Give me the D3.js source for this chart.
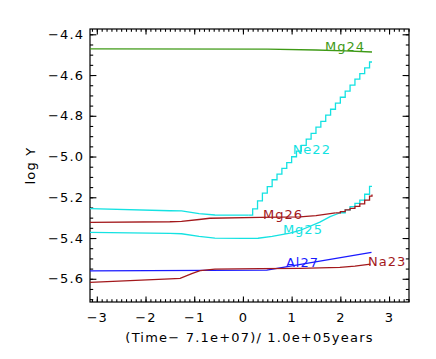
<!DOCTYPE html>
<html>
<head>
<meta charset="utf-8">
<script src="https://cdn.jsdelivr.net/npm/d3@7"></script>
<style>
  body { margin: 0; background: #fff; }
  text { font-family: "DejaVu Sans", sans-serif; }
</style>
</head>
<body>
<div id="chart"></div>
<script>
// tick values
var xTicks = [-3, -2, -1, 0, 1, 2, 3];
var yTicks = [-5.6, -5.4, -5.2, -5.0, -4.8, -4.6, -4.4];

// series, [time, log Y]
var mg24 = [[-3.14, -4.472], [0.5, -4.473], [1.5, -4.477], [2.1, -4.481], [2.65, -4.487]];

var ne22Smooth = [[-3.14, -5.256], [-1.5, -5.266], [-1.26, -5.267], [-0.9, -5.280], [-0.575, -5.287], [0.12, -5.288]];
var ne22Steps = [[0.12, -5.288], [0.2, -5.257], [0.3, -5.218], [0.4, -5.180], [0.5, -5.148], [0.6, -5.114],
    [0.7, -5.086], [0.8, -5.058], [0.9, -5.030], [1.0, -5.001], [1.1, -4.973], [1.2, -4.945],
    [1.3, -4.915], [1.4, -4.886], [1.5, -4.856], [1.6, -4.827], [1.7, -4.797], [1.8, -4.768],
    [1.9, -4.738], [2.0, -4.709], [2.1, -4.679], [2.2, -4.649], [2.3, -4.620], [2.4, -4.593],
    [2.5, -4.565], [2.6, -4.536], [2.65, -4.536]];

var mg26Smooth = [[-3.14, -5.323], [-1.5, -5.320], [-1.26, -5.318], [-0.9, -5.309], [-0.68, -5.303],
    [0.35, -5.299], [1.17, -5.296], [1.5, -5.290], [1.9, -5.277]];
var mg26Steps = [[1.9, -5.277], [2.0, -5.270], [2.1, -5.262], [2.2, -5.254], [2.3, -5.245],
    [2.4, -5.232], [2.5, -5.214], [2.6, -5.194], [2.65, -5.186]];

var mg25Smooth = [[-3.14, -5.372], [-1.5, -5.377], [-1.26, -5.379], [-0.9, -5.392], [-0.575, -5.400],
    [0, -5.402], [0.31, -5.401], [0.6, -5.392], [0.965, -5.376], [1.17, -5.363], [1.58, -5.322],
    [1.79, -5.295], [2.0, -5.276]];
var mg25Steps = [[2.0, -5.276], [2.1, -5.262], [2.2, -5.246], [2.3, -5.230], [2.4, -5.214],
    [2.5, -5.185], [2.6, -5.146], [2.65, -5.146]];

var al27 = [[-3.14, -5.561], [0.49, -5.558], [2.64, -5.470]];

var na23 = [[-3.14, -5.618], [-1.5, -5.600], [-1.29, -5.598], [-1.05, -5.575], [-0.88, -5.560],
    [-0.575, -5.553], [0.35, -5.550], [1.17, -5.549], [1.99, -5.544], [2.3, -5.538], [2.62, -5.528]];

// label anchors in data units
var labelNames = ["Mg24", "Ne22", "Mg26", "Mg25", "Al27", "Na23"];
var labelAt = [[1.684, -4.480], [1.021, -4.988], [0.411, -5.3045], [0.821, -5.381], [0.883, -5.541], [2.567, -5.538]];

var green = "#3f9a16", cyan = "#14e2e2", red = "#a3191c", blue = "#1a1aff";
var labelColors = [green, cyan, red, cyan, blue, red];

var svgWidth = 436;
var svgHeight = 359;
var margin = { top: 29, right: 27, bottom: 57, left: 90 };
var width = svgWidth - margin.left - margin.right;
var height = svgHeight - margin.top - margin.bottom;

var svg = d3.select("#chart")
    .append("svg")
    .attr("width", svgWidth)
    .attr("height", svgHeight);

var chartGroup = svg.append("g")
    .attr("transform", `translate(${margin.left}, ${margin.top})`);

var xScale = d3.scaleLinear().domain([-3.14, 3.41]).range([0, width]);
var yScale = d3.scaleLinear().domain([-5.714, -4.374]).range([height, 0]);

var xMinor = d3.range(-31, 35).map(d => d / 10);
var yMinor = d3.range(-114, -87).map(d => d / 20);

function drawAxis(axis, tx, ty) {
    var g = chartGroup.append("g")
        .attr("transform", `translate(${tx}, ${ty})`)
        .call(axis);
    g.select(".domain").remove();
    g.selectAll("line").attr("stroke", "#000").attr("stroke-width", 1.1);
    g.selectAll("text")
        .style("font-size", "13px")
        .style("letter-spacing", "1.1px")
        .attr("fill", "#000");
    return g;
}

// major and minor ticks on all four sides, pointing in
drawAxis(d3.axisBottom(xScale).tickValues(xTicks).tickFormat(d3.format("d")).tickSize(-5.5).tickPadding(11), 0, height);
drawAxis(d3.axisBottom(xScale).tickValues(xMinor).tickFormat("").tickSize(-2.8), 0, height);
drawAxis(d3.axisTop(xScale).tickValues(xTicks).tickFormat("").tickSize(-5.5), 0, 0);
drawAxis(d3.axisTop(xScale).tickValues(xMinor).tickFormat("").tickSize(-2.8), 0, 0);
drawAxis(d3.axisLeft(yScale).tickValues(yTicks).tickFormat(d3.format(".1f")).tickSize(-6.4).tickPadding(6), 0, 0);
drawAxis(d3.axisLeft(yScale).tickValues(yMinor).tickFormat("").tickSize(-3.2), 0, 0);
drawAxis(d3.axisRight(yScale).tickValues(yTicks).tickFormat("").tickSize(-6.4), width, 0);
drawAxis(d3.axisRight(yScale).tickValues(yMinor).tickFormat("").tickSize(-3.2), width, 0);

chartGroup.append("rect")
    .attr("width", width)
    .attr("height", height)
    .attr("fill", "none")
    .attr("stroke", "#000")
    .attr("stroke-width", 1.2);

// lines
var smooth = d3.line().x(d => xScale(d[0])).y(d => yScale(d[1]));
var stepped = d3.line().x(d => xScale(d[0])).y(d => yScale(d[1])).curve(d3.curveStepAfter);

var paths = [
    [mg24, smooth, green],
    [ne22Smooth, smooth, cyan], [ne22Steps, stepped, cyan],
    [mg25Smooth, smooth, cyan], [mg25Steps, stepped, cyan],
    [al27, smooth, blue],
    [na23, smooth, red],
    [mg26Smooth, smooth, red], [mg26Steps, stepped, red]
];

paths.forEach(function(p) {
    chartGroup.append("path")
        .attr("d", p[1](p[0]))
        .attr("fill", "none")
        .attr("stroke", p[2])
        .attr("stroke-width", 1.3);
});

// series labels
chartGroup.selectAll(".lab")
    .data(labelNames)
    .enter()
    .append("text")
    .attr("class", "lab")
    .attr("x", (d, i) => xScale(labelAt[i][0]))
    .attr("y", (d, i) => yScale(labelAt[i][1]))
    .attr("fill", (d, i) => labelColors[i])
    .style("font-size", "13px")
    .style("letter-spacing", "1px")
    .text(d => d);

// axis titles
chartGroup.append("text")
    .attr("transform", `translate(${width / 2}, ${height + 40})`)
    .style("text-anchor", "middle")
    .style("font-size", "13px")
    .style("letter-spacing", "1.2px")
    .text("(Time\u2212 7.1e+07)/ 1.0e+05years");

chartGroup.append("text")
    .attr("transform", `translate(${-55}, ${height / 2 - 0}) rotate(-90)`)
    .style("text-anchor", "middle")
    .style("font-size", "13px")
    .style("letter-spacing", "1.2px")
    .text("log Y");
</script>
</body>
</html>
